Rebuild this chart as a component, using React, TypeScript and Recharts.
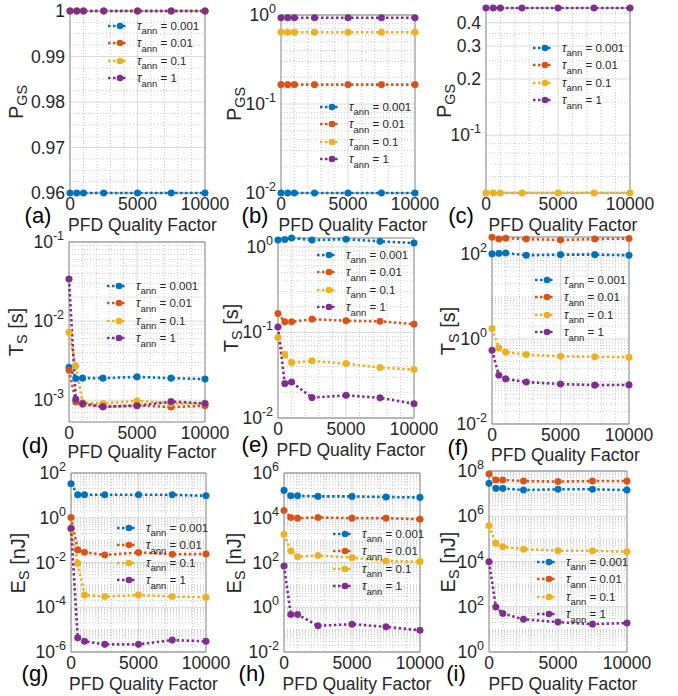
import React from 'react';
import { LineChart, Line, XAxis, YAxis, CartesianGrid, ReferenceArea, Legend } from 'recharts';

const qFactor = [0, 500, 1000, 2500, 5000, 7500, 10000];
const tauValues = ['0.001', '0.01', '0.1', '1'];
const COLORS = ['#0072BD', '#D95319', '#EDB120', '#7E2F8E'];
const xTicks = [0, 5000, 10000];
const xMinor = [1000, 2000, 3000, 4000, 6000, 7000, 8000, 9000];

// P_GS, one row per tau
const pgsA = [
  [0.96, 0.96, 0.96, 0.96, 0.96, 0.96, 0.96],
  [1, 1, 1, 1, 1, 1, 1],
  [1, 1, 1, 1, 1, 1, 1],
  [1, 1, 1, 1, 1, 1, 1],
];
const pgsB = [
  [0.01, 0.01, 0.01, 0.01, 0.01, 0.01, 0.01],
  [0.165, 0.165, 0.165, 0.165, 0.165, 0.165, 0.165],
  [0.64, 0.64, 0.64, 0.64, 0.64, 0.64, 0.64],
  [0.93, 0.93, 0.93, 0.93, 0.93, 0.93, 0.93],
];
const pgsC = [
  [null, null, null, null, null, null, null],
  [null, null, null, null, null, null, null],
  [0.049, 0.049, 0.049, 0.049, 0.049, 0.049, 0.049],
  [0.48, 0.48, 0.48, 0.48, 0.48, 0.48, 0.48],
];

// T_S [s]
const tsD = [
  [2.6e-3, 1.88e-3, 1.9e-3, 1.9e-3, 1.97e-3, 1.9e-3, 1.85e-3],
  [2.4e-3, 9.5e-4, 8.9e-4, 8.2e-4, 8.6e-4, 8.2e-4, 8.5e-4],
  [7.2e-3, 2.7e-3, 9.3e-4, 9.1e-4, 9.8e-4, 9.1e-4, 9.1e-4],
  [0.034, 1.03e-3, 9.1e-4, 8.3e-4, 8.5e-4, 9.6e-4, 9.1e-4],
];
const tsE = [
  [1.2, 1.22, 1.27, 1.2, 1.23, 1.16, 1.11],
  [0.166, 0.133, 0.133, 0.143, 0.137, 0.135, 0.125],
  [0.087, 0.055, 0.0444, 0.0465, 0.0433, 0.0388, 0.0368],
  [0.116, 0.0252, 0.0263, 0.0173, 0.0184, 0.0172, 0.0147],
];
const tsF = [
  [100, 103, 105, 93, 96, 96, 93],
  [246, 225, 234, 225, 213, 225, 230],
  [1.75, 0.61, 0.49, 0.43, 0.39, 0.38, 0.37],
  [0.54, 0.14, 0.115, 0.097, 0.087, 0.082, 0.083],
];

// E_S [nJ]
const esG = [
  [33, 10.7, 10.7, 10.7, 10.7, 10.7, 9.6],
  [1.03, 0.0365, 0.0287, 0.0218, 0.028, 0.0234, 0.024],
  [0.3, 0.0092, 3.5e-4, 3.0e-4, 3.5e-4, 3.0e-4, 2.8e-4],
  [0.34, 4.3e-6, 3.0e-6, 2.2e-6, 2.2e-6, 3.4e-6, 3.0e-6],
];
const esH = [
  [1.67e5, 9.6e4, 9.6e4, 9.0e4, 9.0e4, 8.4e4, 8.1e4],
  [2.1e4, 1.03e4, 9.6e3, 1.03e4, 9.6e3, 9.6e3, 8.6e3],
  [1840, 329, 183, 203, 165, 117, 109],
  [70, 0.475, 0.475, 0.148, 0.175, 0.133, 0.094],
];
const esI = [
  [2.84e7, 1.7e7, 1.7e7, 1.44e7, 1.55e7, 1.55e7, 1.44e7],
  [7.4e7, 4.0e7, 4.0e7, 3.6e7, 3.4e7, 3.6e7, 3.6e7],
  [3.8e5, 6.3e4, 4.5e4, 3.5e4, 3.0e4, 3.0e4, 2.7e4],
  [9.7e3, 98, 50, 28, 21, 17, 19],
];

const FONT = '"Liberation Sans", Arial, Helvetica, sans-serif';
const TXT = '#262626';

// minor grid values on a log axis: k*10^d inside the domain, skipping major ticks
function logMinor(lo: number, hi: number, major: number[]) {
  const out: number[] = [];
  for (let d = Math.floor(Math.log10(lo)); d <= Math.ceil(Math.log10(hi)); d++) {
    for (let k = 1; k <= 9; k++) {
      const v = k * Math.pow(10, d);
      if (v >= lo * 0.999 && v <= hi * 1.001 && !major.some((m) => Math.abs(m - v) / m < 1e-6)) out.push(v);
    }
  }
  return out;
}

type Cfg = {
  key: string;
  series: (number | null)[][];
  px: number; py: number; pw: number; ph: number;
  domain: [number, number];
  ticks: number[];
  log: boolean;
  minor: number[];
  letter: string; lx: number; ly: number;
  title: 'P' | 'T' | 'E'; tx: number; xty: number;
  legX: number; legY: number;
};

const panels: Cfg[] = [
  { key: 'a', series: pgsA, px: 70, py: 11, pw: 135, ph: 182, domain: [0.96, 1], ticks: [0.96, 0.97, 0.98, 0.99, 1], log: false,
    minor: [0.9625, 0.965, 0.9675, 0.9725, 0.975, 0.9775, 0.9825, 0.985, 0.9875, 0.9925, 0.995, 0.9975],
    letter: '(a)', lx: 38, ly: 216, title: 'P', tx: 18, xty: 226, legX: 108, legY: 26 },
  { key: 'b', series: pgsB, px: 281, py: 15, pw: 134, ph: 178, domain: [0.01, 1], ticks: [0.01, 0.1, 1], log: true, minor: [],
    letter: '(b)', lx: 255, ly: 216, title: 'P', tx: 236, xty: 226, legX: 320, legY: 107 },
  { key: 'c', series: pgsC, px: 486, py: 8, pw: 144, ph: 185, domain: [0.049, 0.48], ticks: [0.1, 0.2, 0.3, 0.4], log: true,
    minor: [0.05, 0.06, 0.07, 0.08, 0.09, 0.15, 0.25, 0.35, 0.45],
    letter: '(c)', lx: 461, ly: 216, title: 'P', tx: 446, xty: 226, legX: 533, legY: 48 },
  { key: 'd', series: tsD, px: 69, py: 242, pw: 136, ph: 180, domain: [5.3e-4, 0.1], ticks: [1e-3, 1e-2, 1e-1], log: true, minor: [],
    letter: '(d)', lx: 35, ly: 446, title: 'T', tx: 18, xty: 453, legX: 107, legY: 286 },
  { key: 'e', series: tsE, px: 278, py: 238, pw: 136, ph: 180, domain: [0.01, 1.27], ticks: [1e-2, 1e-1, 1], log: true, minor: [],
    letter: '(e)', lx: 255, ly: 445, title: 'T', tx: 233, xty: 451, legX: 317, legY: 255 },
  { key: 'f', series: tsF, px: 492, py: 237, pw: 137, ph: 187, domain: [0.01, 250], ticks: [1e-2, 1, 1e2], log: true, minor: [],
    letter: '(f)', lx: 458, ly: 448, title: 'T', tx: 450, xty: 456, legX: 535, legY: 280 },
  { key: 'g', series: esG, px: 71, py: 473, pw: 135, ph: 179, domain: [1e-6, 1e2], ticks: [1e-6, 1e-4, 1e-2, 1, 1e2], log: true, minor: [],
    letter: '(g)', lx: 35, ly: 674, title: 'E', tx: 20, xty: 685, legX: 117, legY: 528 },
  { key: 'h', series: esH, px: 284, py: 473, pw: 136, ph: 179, domain: [1e-2, 1e6], ticks: [1e-2, 1, 1e2, 1e4, 1e6], log: true, minor: [],
    letter: '(h)', lx: 252, ly: 674, title: 'E', tx: 236, xty: 685, legX: 333, legY: 534 },
  { key: 'i', series: esI, px: 489, py: 471, pw: 138, ph: 181, domain: [1, 1e8], ticks: [1, 1e2, 1e4, 1e6, 1e8], log: true, minor: [],
    letter: '(i)', lx: 456, ly: 674, title: 'E', tx: 450, xty: 685, legX: 537, legY: 562 },
];

const YW = 70;
const MT = 14;
const MR = 34;
const XH = 24;
const ROW_H = 17.4;
const TICK_FS = 17.5;

function XTick({ x, y, payload }: any) {
  return (
    <text x={x} y={y + 17} textAnchor="middle" fontSize={TICK_FS} fill={TXT} fontFamily={FONT}>
      {payload.value}
    </text>
  );
}

function makeYTick(log: boolean) {
  return function YTick({ x, y, payload }: any) {
    const v = payload.value as number;
    const e = Math.round(Math.log10(v));
    const isPow = log && Math.abs(Math.pow(10, e) - v) / v < 1e-6;
    if (!isPow) {
      return (
        <text x={x - 5} y={y + 6} textAnchor="end" fontSize={TICK_FS} fill={TXT} fontFamily={FONT}>
          {String(v)}
        </text>
      );
    }
    return (
      <text x={x - 5} y={y + 6} textAnchor="end" fontSize={TICK_FS} fill={TXT} fontFamily={FONT}>
        <tspan>10</tspan>
        <tspan dy={-8} fontSize={12.5}>{String(e)}</tspan>
      </text>
    );
  };
}

function LegendBox() {
  return (
    <div style={{ fontFamily: FONT, color: TXT }}>
      {tauValues.map((t, k) => (
        <div key={t} style={{ height: ROW_H, display: 'flex', alignItems: 'center', whiteSpace: 'nowrap' }}>
          <svg width={20} height={10} style={{ flex: 'none' }}>
            <line x1={0} y1={5} x2={20} y2={5} stroke={COLORS[k]} strokeWidth={2.5} strokeDasharray="2.5 2.5" />
            <circle cx={12} cy={5} r={3.3} fill={COLORS[k]} />
          </svg>
          <span style={{ marginLeft: 9, fontSize: 12, fontStyle: 'italic' }}>τ</span>
          <span style={{ fontSize: 9.5, position: 'relative', top: 5 }}>ann</span>
          <span style={{ fontSize: 11.5 }}>&nbsp;= {t}</span>
        </div>
      ))}
    </div>
  );
}

function YTitle({ kind }: { kind: 'P' | 'T' | 'E' }) {
  const sub = { fontSize: '0.72em', verticalAlign: '-0.3em' } as const;
  if (kind === 'P') return <span>P<span style={sub}>GS</span></span>;
  if (kind === 'T') return <span>T<span style={sub}>S</span> [s]</span>;
  return <span>E<span style={sub}>S</span> [nJ]</span>;
}

function Panel({ cfg }: { cfg: Cfg }) {
  const { series, px, py, pw, ph, domain, ticks, log } = cfg;
  const rows = qFactor.map((q, i) => ({ q, s0: series[0][i], s1: series[1][i], s2: series[2][i], s3: series[3][i] }));
  const minor = log && cfg.minor.length === 0 ? logMinor(domain[0], domain[1], ticks) : cfg.minor;
  const YTick = makeYTick(log);
  return (
    <>
      <div style={{ position: 'absolute', left: px - YW, top: py - MT }}>
        <LineChart width={YW + pw + MR} height={MT + ph + XH} data={rows} margin={{ top: MT, right: MR, bottom: 0, left: 0 }}>
          <CartesianGrid horizontalValues={minor} verticalValues={xMinor} stroke="#cacaca" strokeDasharray="1 2" />
          <CartesianGrid horizontalValues={ticks} verticalValues={[5000]} stroke="#dadada" />
          <XAxis dataKey="q" type="number" domain={[0, 10000]} ticks={xTicks} interval={0}
            axisLine={false} tickLine={false} tickSize={0} tickMargin={0} height={XH} tick={<XTick />} />
          <YAxis type="number" scale={log ? 'log' : 'linear'} domain={domain} ticks={ticks} interval={0}
            axisLine={false} tickLine={false} tickSize={0} tickMargin={0} width={YW} tick={<YTick />} />
          <ReferenceArea x1={0} x2={10000} y1={domain[0]} y2={domain[1]} fill="none" stroke="#808080" strokeWidth={1} fillOpacity={0} />
          {COLORS.map((c, k) => (
            <Line key={k} type="linear" dataKey={`s${k}`} stroke={c} strokeWidth={2.6} strokeDasharray="2.5 2.5"
              dot={{ r: 3.3, fill: c, stroke: c, strokeWidth: 0.5, strokeDasharray: '' }} activeDot={false}
              isAnimationActive={false} connectNulls={false} />
          ))}
          <Legend layout="vertical" align="center" verticalAlign="middle" content={() => <LegendBox />}
            wrapperStyle={{ left: cfg.legX - px + YW, top: cfg.legY - py + MT - ROW_H / 2, width: 130, height: ROW_H * 4 }} />
        </LineChart>
      </div>
      <div style={{ position: 'absolute', left: cfg.lx, top: cfg.ly, transform: 'translate(-50%, -50%)', fontSize: 22, lineHeight: 1, color: '#000', fontFamily: FONT }}>
        {cfg.letter}
      </div>
      <div style={{ position: 'absolute', left: px + pw / 2 + 5, top: cfg.xty, transform: 'translate(-50%, -50%)', fontSize: 17.5, lineHeight: 1, color: TXT, fontFamily: FONT, whiteSpace: 'nowrap' }}>
        PFD Quality Factor
      </div>
      <div style={{ position: 'absolute', left: cfg.tx, top: py + ph / 2, transform: 'translate(-50%, -50%) rotate(-90deg)', fontSize: 20, lineHeight: 1, color: TXT, fontFamily: FONT, whiteSpace: 'nowrap' }}>
        <YTitle kind={cfg.title} />
      </div>
    </>
  );
}

export default function App() {
  return (
    <div style={{ position: 'absolute', left: 0, top: 0, width: 678, height: 696, background: '#fff', overflow: 'hidden' }}>
      {panels.map((p) => (
        <Panel key={p.key} cfg={p} />
      ))}
    </div>
  );
}
